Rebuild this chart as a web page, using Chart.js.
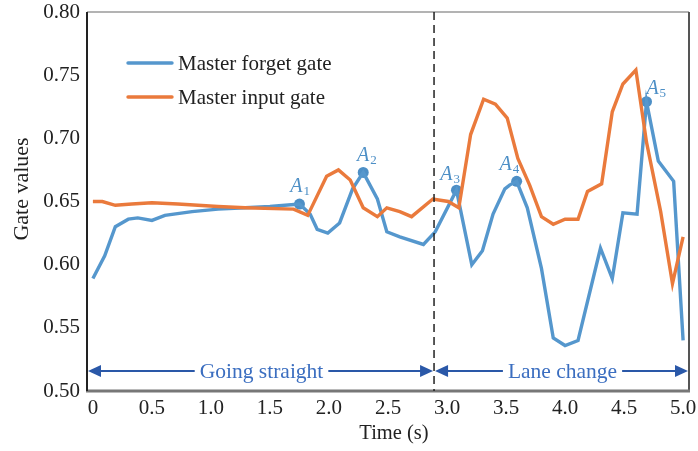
<!DOCTYPE html>
<html>
<head>
<meta charset="utf-8">
<script src="https://cdn.jsdelivr.net/npm/chart.js@4"></script>
<style>
html,body{margin:0;padding:0;background:#fff;}
#wrap{width:698px;height:451px;position:relative;}
</style>
</head>
<body>
<div id="wrap"><canvas id="c" width="698" height="451"></canvas></div>
<script>
// ---- data ----
const forgetTimes = [0,0.10,0.19,0.30,0.38,0.50,0.61,0.84,1.06,1.29,1.50,1.75,1.84,1.90,1.99,2.09,2.20,2.29,2.41,2.49,2.60,2.80,2.90,3.08,3.21,3.30,3.39,3.49,3.53,3.59,3.68,3.80,3.90,4.00,4.11,4.30,4.40,4.49,4.61,4.69,4.79,4.92,5.00];
const forgetValues = [0.589,0.607,0.630,0.636,0.637,0.635,0.639,0.642,0.644,0.645,0.646,0.648,0.640,0.628,0.625,0.633,0.660,0.673,0.652,0.626,0.622,0.616,0.626,0.659,0.600,0.611,0.640,0.660,0.663,0.666,0.645,0.597,0.542,0.536,0.540,0.613,0.589,0.641,0.640,0.729,0.682,0.666,0.540];
const inputTimes = [0,0.08,0.19,0.33,0.50,0.72,1.06,1.29,1.70,1.82,1.98,2.08,2.18,2.29,2.41,2.49,2.60,2.70,2.88,3.01,3.10,3.20,3.31,3.41,3.51,3.60,3.70,3.80,3.90,4.00,4.11,4.19,4.31,4.40,4.49,4.60,4.69,4.81,4.91,5.00];
const inputValues = [0.650,0.650,0.647,0.648,0.649,0.648,0.646,0.645,0.644,0.639,0.670,0.675,0.667,0.645,0.638,0.645,0.642,0.638,0.652,0.650,0.645,0.703,0.731,0.727,0.716,0.684,0.663,0.638,0.632,0.636,0.636,0.658,0.664,0.721,0.743,0.754,0.697,0.642,0.585,0.622];
const seriesLabels = ["Master forget gate","Master input gate"];
const markerTimes = [1.75,2.29,3.08,3.59,4.69];
const markerNames = ["1","2","3","4","5"];
const phaseBoundary = 2.89;
const phaseLabels = ["Going straight","Lane change"];
const xTicks = [0,0.5,1.0,1.5,2.0,2.5,3.0,3.5,4.0,4.5,5.0];
const yTicks = [0.50,0.55,0.60,0.65,0.70,0.75,0.80];
const xTitle = "Time (s)";
const yTitle = "Gate values";

// ---- styles ----
const BLUE = '#5597cd';
const ORANGE = '#ea7a3c';
const ANN = '#4d8fc6';
const ARROW = '#2a58a8';
const PHASE_TXT = '#3b6ec0';
const SERIF = '"Liberation Serif","DejaVu Serif",serif';
const labelOffsets = [[0,-19],[3,-18],[-7,-17],[-8,-18],[9,-15]];

const forgetData = forgetTimes.map((t,i)=>({x:t,y:forgetValues[i]}));
const inputData = inputTimes.map((t,i)=>({x:t,y:inputValues[i]}));
const markerData = markerTimes.map(t=>({x:t,y:forgetValues[forgetTimes.indexOf(t)]}));

const overlay = {
  id:'overlay',
  afterDraw(chart){
    const ctx = chart.ctx, a = chart.chartArea;
    const xs = chart.scales.x, ys = chart.scales.y;
    ctx.save();
    // frame
    ctx.lineCap='butt';
    ctx.strokeStyle='#9a9a9a'; ctx.lineWidth=1.5;
    ctx.beginPath(); ctx.moveTo(a.left,a.top); ctx.lineTo(a.right,a.top); ctx.stroke();
    ctx.strokeStyle='#555'; ctx.lineWidth=2;
    ctx.beginPath(); ctx.moveTo(a.right,a.top); ctx.lineTo(a.right,a.bottom); ctx.stroke();
    ctx.strokeStyle='#777'; ctx.lineWidth=3;
    ctx.beginPath(); ctx.moveTo(a.left-1,a.bottom); ctx.lineTo(a.right+1,a.bottom); ctx.stroke();
    ctx.strokeStyle='#222'; ctx.lineWidth=2;
    ctx.beginPath(); ctx.moveTo(a.left,a.top); ctx.lineTo(a.left,a.bottom); ctx.stroke();

    // dashed boundary
    const bx = xs.getPixelForValue(phaseBoundary);
    ctx.strokeStyle='#222'; ctx.lineWidth=1.5; ctx.setLineDash([8,5]);
    ctx.beginPath(); ctx.moveTo(bx,a.top); ctx.lineTo(bx,a.bottom); ctx.stroke();
    ctx.setLineDash([]);

    // phase arrows
    const ay = a.bottom-20;
    function arrowHead(x,dir){
      ctx.beginPath(); ctx.moveTo(x,ay); ctx.lineTo(x-dir*13,ay-6); ctx.lineTo(x-dir*13,ay+6); ctx.closePath(); ctx.fill();
    }
    ctx.strokeStyle=ARROW; ctx.fillStyle=ARROW; ctx.lineWidth=1.8;
    const segs=[[a.left+1,bx-1],[bx+1,a.right-1]];
    ctx.font='21.5px '+SERIF; ctx.textBaseline='middle'; ctx.textAlign='center';
    segs.forEach((s,i)=>{
      const cx=(s[0]+s[1])/2 + 1;
      const tw=ctx.measureText(phaseLabels[i]).width;
      ctx.beginPath(); ctx.moveTo(s[0]+10,ay); ctx.lineTo(cx-tw/2-5,ay); ctx.moveTo(cx+tw/2+5,ay); ctx.lineTo(s[1]-10,ay); ctx.stroke();
      arrowHead(s[0],-1); arrowHead(s[1],1);
      ctx.fillStyle=PHASE_TXT; ctx.fillText(phaseLabels[i],cx,ay+1); ctx.fillStyle=ARROW;
    });

    // marker labels
    markerData.forEach((p,i)=>{
      const px=xs.getPixelForValue(p.x)+labelOffsets[i][0], py=ys.getPixelForValue(p.y)+labelOffsets[i][1];
      ctx.fillStyle=ANN; ctx.textAlign='left'; ctx.textBaseline='alphabetic';
      ctx.font='italic 20px '+SERIF;
      const w=ctx.measureText('A').width;
      ctx.fillText('A',px-w/2-3,py+7);
      ctx.font='13px '+SERIF;
      ctx.fillText(markerNames[i],px+w/2-2,py+10);
    });

    // legend
    const lx0=128, lx1=172, ly=[63,97];
    [BLUE,ORANGE].forEach((c,i)=>{
      ctx.strokeStyle=c; ctx.lineWidth=3.4; ctx.lineCap='round';
      ctx.beginPath(); ctx.moveTo(lx0,ly[i]); ctx.lineTo(lx1,ly[i]); ctx.stroke();
      ctx.fillStyle='#222'; ctx.font='21px '+SERIF; ctx.textAlign='left'; ctx.textBaseline='middle';
      ctx.fillText(seriesLabels[i],178,ly[i]+1);
    });

    // axis titles
    ctx.fillStyle='#222'; ctx.textAlign='center'; ctx.textBaseline='middle';
    ctx.font='20.5px '+SERIF;
    ctx.fillText(xTitle,(a.left+a.right)/2+6,434);
    ctx.save();
    ctx.translate(22,189); ctx.rotate(-Math.PI/2);
    ctx.font='22px '+SERIF;
    ctx.fillText(yTitle,0,0);
    ctx.restore();
    ctx.restore();
  }
};

new Chart(document.getElementById('c'),{
  type:'line',
  data:{datasets:[
    {label:seriesLabels[1],data:inputData,borderColor:ORANGE,borderWidth:3.4,pointRadius:0,tension:0,fill:false},
    {label:seriesLabels[0],data:forgetData,borderColor:BLUE,borderWidth:3.4,pointRadius:0,tension:0,fill:false},
    {label:'markers',data:markerData,showLine:false,pointRadius:5.5,pointBackgroundColor:ANN,pointBorderWidth:0,borderColor:ANN}
  ]},
  options:{
    responsive:false,animation:false,
    layout:{padding:{left:0,right:9,top:12,bottom:0}},
    plugins:{legend:{display:false},tooltip:{enabled:false}},
    scales:{
      x:{type:'linear',min:-0.05,max:5.05,
        afterBuildTicks(s){s.ticks=xTicks.map(v=>({value:v}));},
        afterFit(s){s.height=60;s.paddingLeft=0;s.paddingRight=0;},
        grid:{display:false,drawTicks:false},border:{display:false},
        ticks:{color:'#222',font:{family:SERIF,size:21},padding:5,maxRotation:0,autoSkip:false,
          callback:v=>v===0?'0':v.toFixed(1)},
        title:{display:false}
      },
      y:{type:'linear',min:0.50,max:0.80,
        afterBuildTicks(s){s.ticks=yTicks.map(v=>({value:v}));},
        afterFit(s){s.width=87;s.paddingTop=0;s.paddingBottom=0;},
        grid:{display:false,drawTicks:false},border:{display:false},
        ticks:{color:'#222',font:{family:SERIF,size:21},padding:7,autoSkip:false,callback:v=>v.toFixed(2)},
        title:{display:false}
      }
    }
  },
  plugins:[overlay]
});
</script>
</body>
</html>
